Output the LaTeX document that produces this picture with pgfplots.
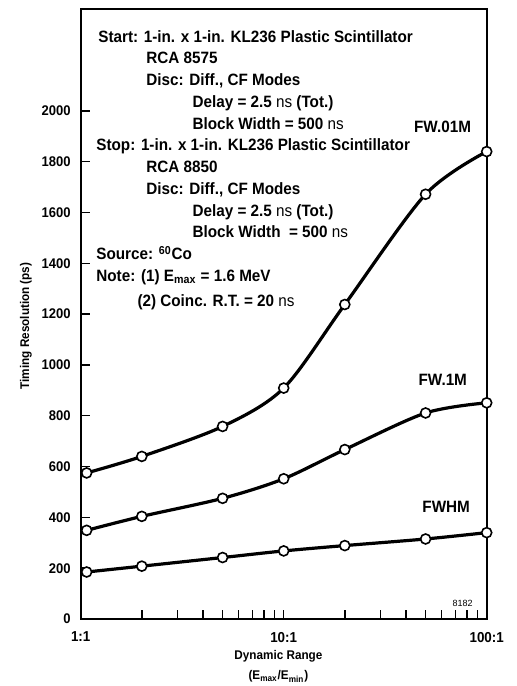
\documentclass[border=0pt]{standalone}
\usepackage{fontspec}
\setmainfont{Liberation Sans}[FakeStretch=0.93]
\newfontfamily\plainfont{Liberation Sans}
\usepackage{pgfplots}
\pgfplotsset{compat=1.18}
\tikzset{txt/.style={anchor=base west, inner sep=0pt,
    font=\fontsize{8.2}{10}\selectfont\bfseries}}
\pgfplotsset{curve/.style={black, line width=1.6pt, smooth,
    mark=*, mark size=2.5pt,
    mark options={fill=white, draw=black, line width=0.8pt}}}

\begin{document}
\begin{tikzpicture}
  \begin{axis}[
    name=ax,
    scale only axis,
    width=203pt, height=304.85pt,
    xmode=log, xmin=1, xmax=100,
    ymin=0, ymax=2400,
    xtick={1,10,100},
    xticklabels={1:1,10:1,100:1},
    minor xtick={2,3,4,5,6,7,8,9,20,30,40,50,60,70,80,90},
    ytick={0,200,...,2000},
    xtick pos=left, ytick pos=left,
    tick align=inside,
    major tick length=4.5pt, minor tick length=4.5pt,
    tick style={black, line width=0.7pt},
    axis line style={line width=0.9pt},
    clip=false,
    /pgf/number format/assume math mode=true,
    /pgf/number format/1000 sep={},
    yticklabel style={font=\fontsize{7}{8}\selectfont\bfseries, xshift=-1.5pt},
    xticklabel style={font=\fontsize{7.2}{8}\selectfont\bfseries, yshift=-3pt},
    ylabel={Timing Resolution (ps)},
    ylabel style={at={(axis description cs:-0.1347,0.4806)}, anchor=center,
      font=\fontsize{6.3}{8}\selectfont\bfseries},
    xlabel={Dynamic Range\\(E\textsubscript{max}/E\textsubscript{min})},
    xlabel style={at={(axis description cs:0.487,-0.0782)}, anchor=center,
      align=center, font=\fontsize{6.3}{10}\selectfont\bfseries},
  ]
  % FW.01M
  \addplot[curve] coordinates {
    (1.07, 575) (2, 640) (5, 758) (10, 909) (20, 1238) (50, 1672) (100, 1840)
  };
  % FW.1M
  \addplot[curve] coordinates {
    (1.07, 349) (2, 404) (5, 475) (10, 552) (20, 667) (50, 811) (100, 851)
  };
  % FWHM
  \addplot[curve] coordinates {
    (1.07, 185) (2, 208) (5, 242) (10, 268) (20, 289) (50, 315) (100, 340)
  };

  \node[anchor=east, font=\fontsize{8.2}{10}\selectfont\bfseries]
    at (rel axis cs:0.9786,0.807) {FW.01M};
  \node[anchor=east, font=\fontsize{8.2}{10}\selectfont\bfseries]
    at (rel axis cs:0.9687,0.392) {FW.1M};
  \node[anchor=east, font=\fontsize{8.2}{10}\selectfont\bfseries]
    at (rel axis cs:0.976,0.184) {FWHM};
  \node[anchor=east, font=\plainfont\fontsize{4.5}{5}\selectfont]
    at (rel axis cs:0.983,0.0258) {8182};

  \node[txt] at (rel axis cs:0.0426,0.9460) {Start: 1-in. x 1-in. KL236 Plastic Scintillator};
  \node[txt] at (rel axis cs:0.161,0.9104) {RCA 8575};
  \node[txt] at (rel axis cs:0.161,0.8747) {Disc: Diff., CF Modes};
  \node[txt] at (rel axis cs:0.2746,0.8390) {Delay = 2.5 {\mdseries ns} (Tot.)};
  \node[txt] at (rel axis cs:0.2746,0.8034) {Block Width = 500 {\mdseries ns}};
  \node[txt] at (rel axis cs:0.0377,0.7677) {Stop: 1-in. x 1-in. KL236 Plastic Scintillator};
  \node[txt] at (rel axis cs:0.161,0.7320) {RCA 8850};
  \node[txt] at (rel axis cs:0.161,0.6963) {Disc: Diff., CF Modes};
  \node[txt] at (rel axis cs:0.2746,0.6607) {Delay = 2.5 {\mdseries ns} (Tot.)};
  \node[txt] at (rel axis cs:0.2746,0.6250) {Block Width\ \ = 500 {\mdseries ns}};
  \node[txt] at (rel axis cs:0.0377,0.5893) {Source: \textsuperscript{60}Co};
  \node[txt] at (rel axis cs:0.0377,0.5536) {Note: (1) E\textsubscript{max} = 1.6 MeV};
  \node[txt] at (rel axis cs:0.139,0.5120) {(2) Coinc. R.T. = 20 {\mdseries ns}};
  \end{axis}
  \pgfresetboundingbox
  \path ([shift={(-40.35pt,-33.5pt)}]ax.south west)
    rectangle ([shift={(14.65pt,4.65pt)}]ax.north east);
\end{tikzpicture}
\end{document}
